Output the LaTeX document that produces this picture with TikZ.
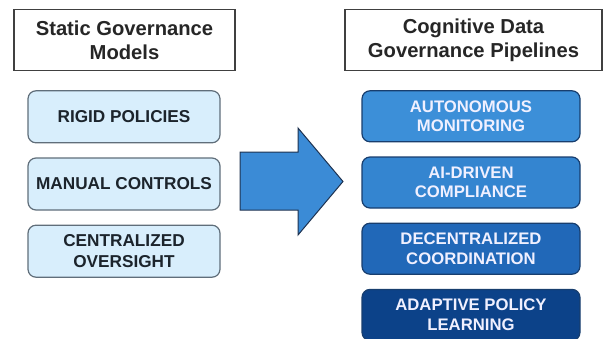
\documentclass[tikz,border=0pt]{standalone}
\usepackage{fontspec}
\setmainfont{Liberation Sans}
\usetikzlibrary{positioning}
\definecolor{titleborder}{RGB}{64, 64, 64}
\definecolor{oldfill}{RGB}{216, 238, 252}
\definecolor{oldborder}{RGB}{96, 110, 122}
\definecolor{oldtext}{RGB}{28, 36, 44}
\definecolor{newone}{RGB}{60, 143, 216}
\definecolor{newtwo}{RGB}{52, 133, 208}
\definecolor{newthree}{RGB}{33, 104, 184}
\definecolor{newfour}{RGB}{12, 66, 137}
\definecolor{newborder}{RGB}{24, 62, 110}
\definecolor{arrowfill}{RGB}{59, 139, 214}
\definecolor{arrowborder}{RGB}{30, 50, 80}
\tikzset{
    % Headings
    titlebox/.style={
        draw=titleborder, line width=1.4pt, fill=white, align=center,
        font=\fontsize{20.2}{24}\selectfont\bfseries, text=black!85,
        minimum height=61pt, inner sep=0pt
    },
    % Static side
    oldbox/.style={
        draw=oldborder, line width=1.2pt, fill=oldfill, rounded corners=8pt,
        align=center, font=\fontsize{17.2}{20.5}\selectfont\bfseries, text=oldtext,
        minimum width=192pt, minimum height=52pt, inner sep=0pt
    },
    % Cognitive side
    newbox/.style={
        draw=newborder, line width=1.2pt, rounded corners=8pt,
        align=center, font=\fontsize{16.7}{19.5}\selectfont\bfseries, text=white!94!blue,
        minimum width=218pt, minimum height=51pt, inner sep=0pt
    },
    % Transition arrow
    bigarrow/.style={draw=arrowborder, line width=1pt, fill=arrowfill, line join=miter},
}
\begin{document}
\begin{tikzpicture}[x=1pt, y=-1pt, node distance=14pt]
\useasboundingbox (0,0) rectangle (606,338);

% Left column
\node (static) [titlebox, minimum width=221pt] at (124.5,40) {Static Governance\\Models};
\node (rigid) [oldbox, below=19pt of static.south, anchor=north, xshift=-0.5pt] {RIGID POLICIES};
\node (manual) [oldbox, below=of rigid] {MANUAL CONTROLS};
\node (central) [oldbox, below=of manual] {CENTRALIZED\\OVERSIGHT};

% Right column
\node (cognitive) [titlebox, minimum width=257pt] at (473.5,40) {Cognitive Data\\Governance Pipelines};
\node (auto) [newbox, fill=newone, below=19pt of cognitive.south, anchor=north, xshift=-2.5pt] {AUTONOMOUS\\MONITORING};
\node (aidriven) [newbox, fill=newtwo, below=of auto] {AI-DRIVEN\\COMPLIANCE};
\node (decentral) [newbox, fill=newthree, below=of aidriven] {DECENTRALIZED\\COORDINATION};
\node (adaptive) [newbox, fill=newfour, below=of decentral] {ADAPTIVE POLICY\\LEARNING};

% Arrow between the columns
\draw[bigarrow] (240,152) -- (298,152) -- (298,128) -- (343,181.5)
    -- (298,235) -- (298,210) -- (240,210) -- cycle;

\end{tikzpicture}
\end{document}
